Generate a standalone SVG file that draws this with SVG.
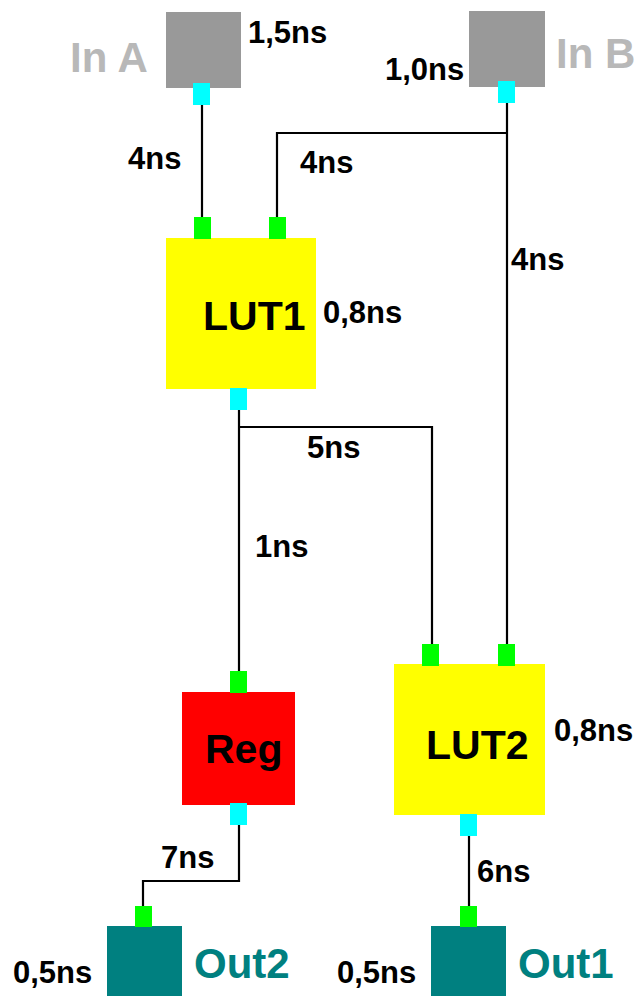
<svg xmlns="http://www.w3.org/2000/svg" width="638" height="996" viewBox="0 0 638 996">
<style>
text{font-family:"Liberation Sans",Arial,Helvetica,sans-serif;font-weight:bold}
.t{font-size:31px;fill:#000}
.big{font-size:41px;fill:#000}
.in{font-size:42px;fill:#b8b8b8}
.out{font-size:42px;fill:#008080}
.wire{fill:none;stroke:#000;stroke-width:2.2}
.pin{fill:#00ff00}
.pout{fill:#00ffff}
</style>
<rect width="638" height="996" fill="#fff"/>
<g id="connectors">
<path class="wire" d="M202,105V218"/>
<path class="wire" d="M507,103V645"/>
<path class="wire" d="M507,133H277V218"/>
<path class="wire" d="M239,410V671"/>
<path class="wire" d="M239,427H432V645"/>
<path class="wire" d="M239,825V881H143V906"/>
<path class="wire" d="M469,836V906"/>
<text class="t" x="128" y="169">4ns</text>
<text class="t" x="300" y="173">4ns</text>
<text class="t" x="511" y="270">4ns</text>
<text class="t" x="307" y="458">5ns</text>
<text class="t" x="255" y="557">1ns</text>
<text class="t" x="161" y="868">7ns</text>
<text class="t" x="477" y="882">6ns</text>
</g>
<g id="inA">
<rect x="166" y="12" width="75" height="76" fill="#999"/>
<rect class="pout" x="193" y="83" width="17" height="22"/>
<text class="in" x="70" y="72">In A</text>
<text class="t" x="248" y="43">1,5ns</text>
</g>
<g id="inB">
<rect x="469" y="11" width="76" height="76" fill="#999"/>
<rect class="pout" x="498" y="81" width="17" height="22"/>
<text class="in" x="556" y="68">In B</text>
<text class="t" x="385" y="80">1,0ns</text>
</g>
<g id="lut1">
<rect x="166" y="238" width="150" height="151" fill="#ff0"/>
<rect class="pin" x="194" y="217" width="17" height="22"/>
<rect class="pin" x="269" y="217" width="17" height="22"/>
<rect class="pout" x="230" y="388" width="17" height="22"/>
<text class="big" x="203" y="330">LUT1</text>
<text class="t" x="323" y="323">0,8ns</text>
</g>
<g id="reg">
<rect x="182" y="692" width="113" height="113" fill="#f00"/>
<rect class="pin" x="230" y="671" width="17" height="22"/>
<rect class="pout" x="230" y="803" width="17" height="22"/>
<text class="big" x="205" y="763">Reg</text>
</g>
<g id="lut2">
<rect x="394" y="664" width="151" height="151" fill="#ff0"/>
<rect class="pin" x="422" y="644" width="17" height="22"/>
<rect class="pin" x="498" y="644" width="17" height="22"/>
<rect class="pout" x="460" y="814" width="17" height="22"/>
<text class="big" x="426" y="759">LUT2</text>
<text class="t" x="554" y="741">0,8ns</text>
</g>
<g id="out2">
<rect x="107" y="926" width="75" height="70" fill="#008080"/>
<rect class="pin" x="135" y="906" width="17" height="21"/>
<text class="out" x="194" y="978">Out2</text>
<text class="t" x="13" y="983">0,5ns</text>
</g>
<g id="out1">
<rect x="431" y="926" width="75" height="70" fill="#008080"/>
<rect class="pin" x="460" y="906" width="17" height="21"/>
<text class="out" x="518" y="978">Out1</text>
<text class="t" x="337" y="983">0,5ns</text>
</g>
</svg>
